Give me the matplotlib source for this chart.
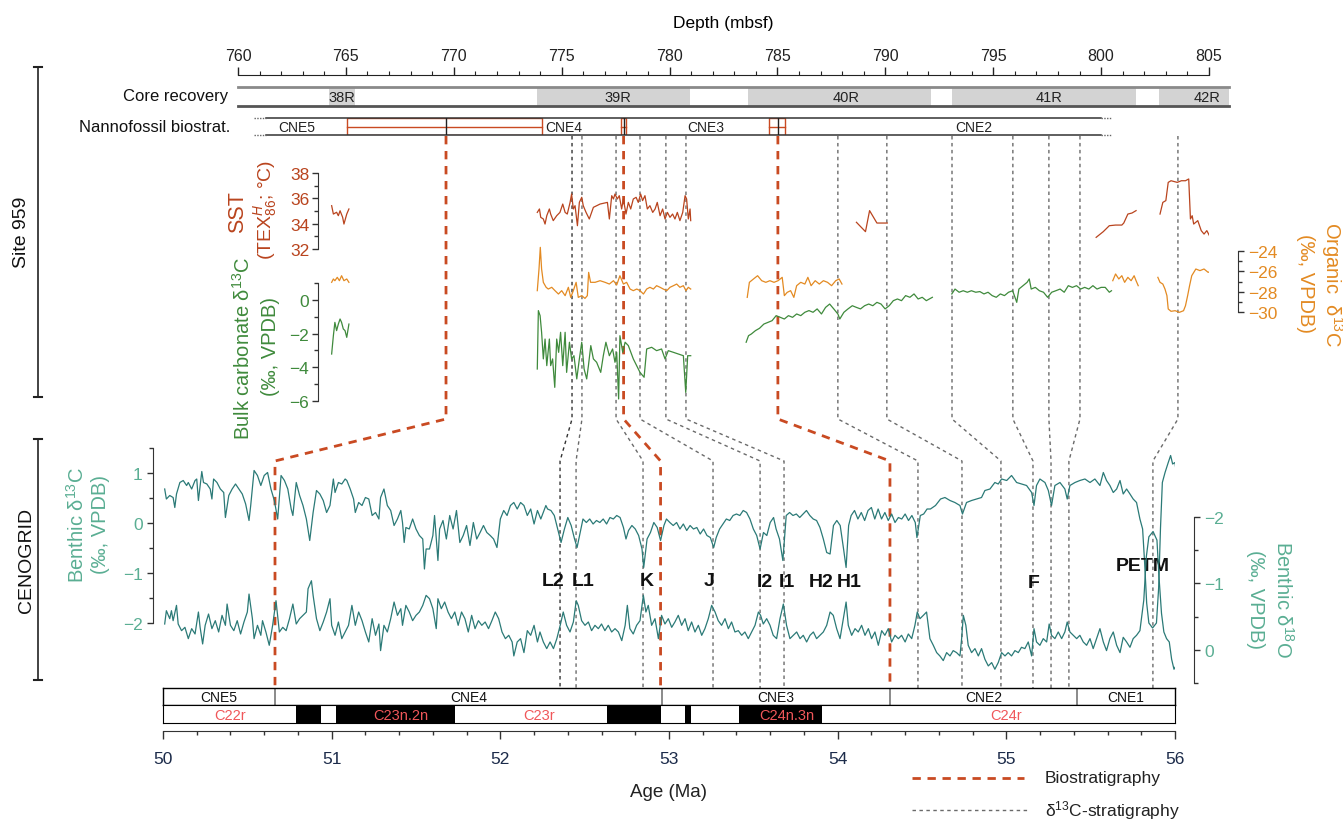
import numpy as np
import matplotlib
matplotlib.use('Agg')
import matplotlib.pyplot as plt
from matplotlib.patches import Rectangle
from matplotlib.ticker import MultipleLocator, FixedLocator

plt.rcParams['font.family'] = ['Liberation Sans', 'DejaVu Sans']
plt.rcParams['mathtext.fontset'] = 'custom'
plt.rcParams['mathtext.rm'] = 'Liberation Sans'
plt.rcParams['mathtext.it'] = 'Liberation Sans:italic'
plt.rcParams['mathtext.bf'] = 'Liberation Sans:bold'

# colours
c_sst = '#b9441e'
c_org = '#e38a22'
c_bulk = '#3f8a3c'
c_ben = '#2b7a77'
c_benlab = '#5aae93'
c_bio = '#c94a22'
c_iso = '#6a6a6a'
c_chron = '#f0575a'
c_age = '#1c2b4a'

# ---------------- Site 959 core / biostratigraphy (depth, mbsf)
core_names = ['38R', '39R', '40R', '41R', '42R']
core_top = [764.2, 773.85, 783.63, 793.1, 802.7]
core_bot = [765.4, 780.95, 792.1, 801.6, 805.93]
core_lab = [764.8, 777.6, 788.2, 797.6, 804.9]

nanno_names = ['CNE5', 'CNE4', 'CNE3', 'CNE2']
nanno_lab = [762.7, 775.1, 781.7, 794.1]
nanno_unc = [(765.05, 774.09), (777.75, 777.98), (784.6, 785.35)]

# tie points depth -> age
bio_depth = [769.64, 777.87, 785.02]
bio_age = [50.664, 52.95, 54.31]
iso_depth = [775.48, 775.94, 777.52, 778.63, 779.83, 780.76, 787.80, 790.07,
             793.09, 795.91, 797.58, 799.02, 803.56]
iso_age = [52.354, 52.449, 52.846, 53.261, 53.54, 53.682, 54.476, 54.737,
           54.968, 55.158, 55.265, 55.371, 55.869]

# ---------------- Site 959 SST (TEX86H, degC) vs depth
sst_1 = [(764.34, 35.42), (764.42, 34.76), (764.57, 34.9), (764.65, 34.63), (764.73, 35.02),
         (764.85, 34.5), (764.91, 33.97), (765.04, 34.76), (765.14, 35.16)]
sst_2 = [(773.87, 34.89), (773.97, 35.16), (774.03, 34.5), (774.15, 34.37), (774.23, 33.97),
         (774.31, 34.63), (774.43, 35.16), (774.49, 34.76), (774.61, 34.24), (774.77, 34.63),
         (774.92, 34.89), (775.05, 35.55), (775.16, 34.89), (775.26, 34.76), (775.39, 35.68),
         (775.46, 36.34), (775.54, 35.16), (775.62, 35.42), (775.73, 33.84), (775.82, 35.68),
         (775.93, 36.08), (776.0, 35.42), (776.13, 34.89), (776.28, 34.37), (776.47, 35.29),
         (776.78, 35.55), (777.12, 35.68), (777.21, 34.37), (777.32, 36.21), (777.4, 35.95),
         (777.47, 36.34), (777.58, 35.95), (777.67, 36.21), (777.78, 35.16), (777.86, 35.95),
         (777.98, 34.76), (778.09, 35.68), (778.2, 35.16), (778.32, 35.95), (778.45, 36.08),
         (778.55, 35.68), (778.66, 36.34), (778.75, 35.82), (778.86, 36.21), (778.97, 35.16),
         (779.09, 35.42), (779.22, 34.89), (779.33, 35.16), (779.43, 35.68), (779.56, 34.63),
         (779.68, 35.16), (779.79, 34.37), (779.9, 34.89), (780.02, 34.5), (780.14, 34.76),
         (780.25, 34.37), (780.36, 34.89), (780.48, 34.24), (780.61, 34.89), (780.72, 36.21),
         (780.79, 35.95), (780.87, 34.37), (780.95, 35.16), (780.98, 34.24)]
sst_3 = [(788.66, 34.11), (789.08, 33.37), (789.27, 35.03), (789.61, 34.05), (790.09, 34.05)]
sst_4 = [(799.77, 32.92), (800.1, 33.37), (800.38, 33.84), (800.67, 33.89), (800.96, 33.89),
         (801.05, 34.05), (801.24, 34.76), (801.43, 34.84), (801.62, 35.03)]
sst_5 = [(802.73, 34.76), (802.86, 35.68), (803.0, 35.82), (803.11, 37.26), (803.24, 37.39),
         (803.53, 37.26), (803.72, 37.39), (803.91, 37.39), (804.06, 37.53), (804.14, 34.37),
         (804.22, 34.63), (804.29, 33.97), (804.48, 34.24), (804.64, 33.45), (804.77, 33.18),
         (804.9, 33.45), (805.06, 32.92), (805.21, 33.58), (805.34, 33.05), (805.63, 32.84)]

# ---------------- Site 959 organic d13C (permil) vs depth
org_1 = [(764.34, -27.08), (764.42, -26.75), (764.49, -26.92), (764.6, -26.59), (764.7, -26.92),
         (764.8, -26.43), (764.91, -26.92), (765.04, -26.75), (765.14, -27.08)]
org_2 = [(773.87, -27.9), (773.95, -25.77), (774.01, -23.64), (774.07, -25.77), (774.15, -27.08),
         (774.28, -27.57), (774.38, -27.74), (774.54, -27.57), (774.69, -27.9), (774.85, -28.23),
         (775.0, -27.9), (775.16, -28.39), (775.31, -27.57), (775.42, -28.56), (775.54, -27.9),
         (775.67, -27.08), (775.77, -28.56), (775.93, -28.39), (776.08, -28.66), (776.19, -28.39),
         (776.25, -26.1), (776.34, -27.08), (776.55, -27.08), (776.78, -26.92), (777.01, -27.08),
         (777.21, -27.25), (777.4, -26.92), (777.55, -27.34), (777.7, -26.43), (777.86, -27.25),
         (778.01, -27.08), (778.17, -27.74), (778.32, -27.9), (778.48, -27.74), (778.63, -27.9),
         (778.79, -28.23), (778.94, -27.74), (779.09, -27.57), (779.25, -27.74), (779.4, -27.41),
         (779.56, -27.57), (779.71, -27.74), (779.87, -27.9), (780.02, -27.57), (780.18, -27.41),
         (780.33, -27.25), (780.48, -27.57), (780.64, -27.41), (780.76, -27.9), (780.87, -27.57),
         (780.98, -27.74)]
org_3 = [(783.6, -28.56), (783.7, -27.08), (783.89, -26.75), (784.08, -26.43), (784.27, -26.92),
         (784.46, -27.08), (784.65, -26.92), (784.84, -27.08), (785.03, -26.92), (785.22, -26.59),
         (785.32, -28.39), (785.45, -28.07), (785.61, -27.9), (785.76, -28.56), (785.89, -27.41),
         (786.08, -27.08), (786.27, -27.25), (786.41, -26.59), (786.56, -27.41), (786.75, -26.92),
         (786.94, -27.25), (787.13, -26.92), (787.32, -27.08), (787.51, -27.41), (787.7, -26.92),
         (787.86, -26.75), (787.99, -27.25)]
org_4 = [(800.54, -26.92), (800.67, -26.26), (800.82, -26.75), (800.96, -26.43), (801.09, -27.08),
         (801.24, -26.59), (801.39, -26.92), (801.53, -26.43), (801.62, -26.92), (801.72, -27.41)]
org_5 = [(802.63, -26.59), (802.73, -27.08), (802.86, -27.25), (802.96, -27.74), (803.05, -28.39),
         (803.11, -29.7), (803.24, -29.93), (803.43, -29.87), (803.63, -30.03), (803.82, -29.87),
         (803.91, -29.38), (804.01, -28.39), (804.1, -27.41), (804.2, -26.43), (804.39, -25.77),
         (804.58, -25.93), (804.77, -25.77), (804.96, -26.1), (805.15, -25.93), (805.34, -26.26),
         (805.48, -25.11), (805.59, -25.93), (805.67, -26.43)]

# ---------------- Site 959 bulk carbonate d13C (permil) vs depth
bulk_1 = [(764.34, -3.21), (764.42, -2.12), (764.49, -1.33), (764.57, -1.82), (764.65, -1.43),
          (764.73, -1.13), (764.8, -1.33), (764.88, -1.72), (764.96, -1.82), (765.04, -2.22),
          (765.14, -1.43)]
bulk_2 = [(773.87, -4.1), (773.92, -0.63), (774.0, -0.93), (774.07, -1.92), (774.15, -3.5),
          (774.23, -2.32), (774.31, -3.9), (774.43, -2.32), (774.49, -3.9), (774.58, -3.5),
          (774.68, -5.19), (774.77, -2.32), (774.86, -3.11), (774.95, -1.92), (775.05, -3.9),
          (775.16, -1.92), (775.23, -4.3), (775.36, -2.51), (775.46, -3.5), (775.57, -3.31),
          (775.7, -4.69), (775.82, -3.5), (775.93, -2.51), (776.04, -4.1), (776.16, -4.69),
          (776.24, -3.9), (776.35, -2.71), (776.47, -3.5), (776.62, -3.7), (776.81, -4.3),
          (776.93, -3.31), (777.05, -2.51), (777.21, -3.31), (777.36, -2.91), (777.47, -3.7),
          (777.55, -3.11), (777.64, -5.88), (777.7, -2.12), (777.83, -3.11), (777.94, -2.51),
          (778.09, -2.71), (778.32, -3.5), (778.63, -4.3), (778.82, -4.59), (778.94, -2.91),
          (779.17, -2.81), (779.4, -3.01), (779.63, -2.91), (779.79, -3.5), (779.94, -3.01),
          (780.18, -3.11), (780.41, -3.21), (780.64, -3.31), (780.75, -5.49), (780.84, -3.31),
          (780.98, -3.31)]
bulk_3 = [(783.55, -2.51), (783.66, -2.12), (783.79, -2.02), (783.98, -1.82), (784.17, -1.68),
          (784.37, -1.43), (784.56, -1.33), (784.75, -1.23), (784.94, -0.93), (785.13, -1.03),
          (785.32, -1.13), (785.51, -0.93), (785.7, -1.03), (785.89, -0.83), (786.08, -0.93),
          (786.27, -0.73), (786.46, -0.63), (786.65, -0.73), (786.84, -0.53), (787.04, -0.83),
          (787.23, -0.44), (787.42, -0.24), (787.61, -0.53), (787.8, -0.83), (787.89, -1.13),
          (788.08, -0.73), (788.27, -0.53), (788.47, -0.34), (788.66, -0.44), (788.85, -0.53),
          (789.04, -0.34), (789.23, -0.24), (789.42, -0.34), (789.61, -0.14), (789.8, -0.24),
          (789.99, -0.53), (790.18, -0.34), (790.37, -0.04), (790.56, 0.06), (790.75, -0.04),
          (790.94, 0.26), (791.14, 0.16), (791.33, 0.36), (791.52, 0.06), (791.71, 0.16),
          (791.9, -0.04), (792.18, 0.16)]
bulk_4 = [(793.08, 0.36), (793.23, 0.65), (793.42, 0.46), (793.61, 0.55), (793.8, 0.46),
          (793.99, 0.55), (794.19, 0.46), (794.38, 0.5), (794.57, 0.36), (794.76, 0.46),
          (794.95, 0.26), (795.14, 0.16), (795.33, 0.36), (795.52, 0.26), (795.71, 0.46),
          (795.9, 0.55), (796.09, -0.14), (796.19, 0.65), (796.38, 0.85), (796.57, 1.05),
          (796.67, 1.25), (796.76, 0.65), (796.95, 0.75), (797.14, 0.55), (797.33, 0.46),
          (797.52, 0.16), (797.71, 0.46), (797.9, 0.55), (798.1, 0.65), (798.29, 0.46),
          (798.48, 0.85), (798.67, 0.75), (798.86, 0.85), (799.05, 0.65), (799.24, 0.75),
          (799.43, 0.65), (799.62, 0.85), (799.81, 0.65), (800.0, 0.75), (800.19, 0.75),
          (800.38, 0.46), (800.48, 0.55)]

# ---------------- CENOGRID benthic d13C (permil) vs age (Ma)
b13 = [(50.01, 0.68), (50.02, 0.48), (50.04, 0.55), (50.06, 0.51), (50.07, 0.31), (50.08, 0.58),
       (50.10, 0.81), (50.12, 0.85), (50.14, 0.75), (50.15, 0.81), (50.17, 0.68), (50.19, 0.85),
       (50.20, 0.88), (50.21, 0.45), (50.23, 1.03), (50.24, 0.81), (50.26, 0.78), (50.28, 0.68),
       (50.29, 0.48), (50.30, 0.88), (50.32, 0.81), (50.34, 0.68), (50.36, 0.61), (50.37, 0.11),
       (50.39, 0.55), (50.41, 0.68), (50.43, 0.78), (50.45, 0.68), (50.47, 0.58), (50.49, 0.38),
       (50.51, 0.05), (50.52, 0.35), (50.54, 1.05), (50.56, 0.95), (50.58, 0.75), (50.60, 0.95),
       (50.62, 1.01), (50.64, 0.68), (50.66, 0.45), (50.68, 0.08), (50.70, 0.95), (50.72, 0.85),
       (50.74, 0.68), (50.76, 0.28), (50.77, 0.15), (50.79, 0.81), (50.81, 0.55), (50.83, 0.35),
       (50.85, 0.08), (50.87, -0.35), (50.89, 0.21), (50.91, 0.65), (50.93, 0.58), (50.95, 0.45),
       (50.97, 0.21), (50.99, 0.35), (51.01, 0.88), (51.02, 0.61), (51.04, 0.81), (51.06, 0.78),
       (51.08, 0.88), (51.09, 0.85), (51.11, 0.68), (51.13, 0.48), (51.14, 0.21), (51.16, 0.41),
       (51.18, 0.35), (51.20, 0.51), (51.22, 0.48), (51.24, 0.15), (51.26, 0.21), (51.28, 0.08),
       (51.29, 0.51), (51.31, 0.68), (51.33, 0.35), (51.35, 0.25), (51.37, -0.05), (51.39, 0.08),
       (51.41, 0.25), (51.42, 0.01), (51.43, -0.39), (51.44, -0.09), (51.46, -0.12), (51.48, 0.08),
       (51.50, -0.12), (51.52, -0.25), (51.54, -0.32), (51.55, -0.92), (51.56, -0.52), (51.58, -0.52),
       (51.60, -0.25), (51.61, 0.15), (51.63, -0.75), (51.64, -0.12), (51.66, 0.05), (51.68, -0.32),
       (51.70, 0.15), (51.72, -0.12), (51.74, 0.25), (51.76, -0.39), (51.78, -0.25), (51.80, -0.05),
       (51.82, -0.45), (51.84, 0.01), (51.86, -0.32), (51.88, -0.19), (51.90, -0.05), (51.92, -0.19),
       (51.94, -0.25), (51.96, -0.32), (51.98, -0.49), (52.00, 0.08), (52.02, 0.25), (52.04, 0.15),
       (52.06, 0.35), (52.08, 0.41), (52.10, 0.28), (52.12, 0.41), (52.14, 0.35), (52.16, 0.15),
       (52.18, 0.28), (52.20, -0.02), (52.22, 0.25),
       (52.24, 0.08), (52.27, 0.35), (52.28, 0.28), (52.30, 0.25), (52.32, 0.15), (52.34, -0.12),
       (52.36, -0.39), (52.38, -0.12), (52.40, 0.11), (52.42, -0.05), (52.44, -0.32), (52.455, -0.49),
       (52.47, -0.25), (52.49, 0.08), (52.51, 0.01), (52.53, 0.08), (52.55, -0.02), (52.57, 0.05),
       (52.59, 0.01), (52.61, 0.08), (52.63, -0.02), (52.65, 0.11), (52.67, 0.08), (52.69, 0.15),
       (52.71, 0.11), (52.73, -0.09), (52.745, -0.32), (52.76, -0.15), (52.78, -0.05), (52.80, -0.12),
       (52.82, -0.25), (52.84, -0.52), (52.85, -0.89), (52.87, -0.32), (52.89, -0.19), (52.91, 0.01),
       (52.93, -0.09), (52.95, -0.35), (52.97, -0.05), (52.985, 0.08), (53.005, 0.01), (53.025, -0.05),
       (53.045, 0.01), (53.065, -0.12), (53.085, -0.02), (53.105, -0.15), (53.125, -0.05), (53.145, -0.12),
       (53.165, -0.09), (53.185, -0.22), (53.205, -0.12), (53.225, -0.25), (53.245, -0.29), (53.265, -0.49),
       (53.28, -0.29), (53.30, -0.12), (53.32, -0.02), (53.34, 0.08), (53.36, 0.05), (53.38, 0.15),
       (53.40, 0.18), (53.42, 0.15), (53.44, 0.25), (53.46, 0.21), (53.48, 0.08), (53.50, -0.12),
       (53.52, -0.25), (53.54, -0.52), (53.56, -0.19), (53.58, -0.25), (53.60, 0.01), (53.62, 0.11),
       (53.635, -0.12), (53.655, -0.32), (53.675, -0.75), (53.695, 0.15), (53.715, 0.21), (53.735, 0.15),
       (53.755, 0.18), (53.775, 0.11), (53.795, 0.18), (53.815, 0.25), (53.835, 0.15), (53.855, 0.08),
       (53.875, 0.05), (53.895, -0.09), (53.915, -0.32), (53.935, -0.59), (53.955, -0.62), (53.975, -0.05),
       (53.995, 0.05), (54.015, -0.05), (54.035, -0.52), (54.05, -0.89), (54.065, -0.05), (54.08, 0.15),
       (54.10, 0.25), (54.12, 0.08), (54.14, 0.21), (54.16, 0.05), (54.18, 0.25), (54.20, 0.31),
       (54.22, 0.08), (54.24, 0.28), (54.26, 0.08), (54.28, 0.21), (54.30, 0.05), (54.32, 0.18),
       (54.34, 0.01), (54.36, 0.11), (54.38, 0.08), (54.40, 0.18), (54.42, 0.05), (54.44, 0.15),
       (54.46, 0.01), (54.47, -0.29), (54.49, 0.15), (54.51, 0.18), (54.53, 0.28),
       (54.55, 0.28), (54.58, 0.35), (54.61, 0.48), (54.636, 0.51), (54.666, 0.45), (54.695, 0.41),
       (54.725, 0.35), (54.74, 0.18), (54.764, 0.41), (54.794, 0.45), (54.824, 0.48), (54.853, 0.51),
       (54.873, 0.65), (54.903, 0.68), (54.932, 0.81), (54.952, 0.78), (54.972, 0.88), (55.002, 0.85),
       (55.031, 0.95), (55.061, 0.81), (55.09, 0.78), (55.12, 0.75), (55.15, 0.61), (55.164, 0.35),
       (55.179, 0.75), (55.199, 0.88), (55.229, 0.81), (55.249, 0.65), (55.268, 0.35), (55.288, 0.75),
       (55.318, 0.81), (55.347, 0.68), (55.361, 0.48), (55.377, 0.75), (55.407, 0.81), (55.436, 0.85),
       (55.466, 0.88), (55.496, 0.81), (55.525, 0.88), (55.555, 0.75), (55.575, 1.01), (55.594, 0.85),
       (55.614, 0.75), (55.634, 0.61), (55.654, 0.68), (55.674, 0.85), (55.693, 0.58), (55.713, 0.68),
       (55.733, 0.58), (55.752, 0.48), (55.772, 0.41), (55.792, 0.08), (55.808, -0.12), (55.82, -0.8),
       (55.832, -1.6), (55.845, -2.0), (55.867, -2.1), (55.89, -2.0), (55.903, -1.3), (55.914, -0.1),
       (55.925, 0.81), (55.941, 1.01), (55.96, 1.21), (55.974, 1.35), (55.986, 1.18), (56.0, 1.21),
       (56.006, 1.05)]

# ---------------- CENOGRID benthic d18O (permil) vs age (Ma)
b18 = [(50.01, -0.39), (50.02, -0.59), (50.04, -0.47), (50.05, -0.59), (50.06, -0.44), (50.08, -0.67),
       (50.09, -0.39), (50.11, -0.29), (50.13, -0.34), (50.15, -0.17), (50.17, -0.32), (50.19, -0.24),
       (50.21, -0.57), (50.22, -0.34), (50.235, -0.09), (50.25, -0.37), (50.27, -0.54), (50.29, -0.32),
       (50.31, -0.44), (50.33, -0.27), (50.35, -0.52), (50.37, -0.37), (50.38, -0.69), (50.40, -0.37),
       (50.42, -0.29), (50.44, -0.44), (50.46, -0.24), (50.48, -0.42), (50.50, -0.57), (50.51, -0.84),
       (50.53, -0.47), (50.54, -0.17), (50.56, -0.37), (50.58, -0.22), (50.59, -0.44), (50.61, -0.27),
       (50.63, -0.07), (50.65, -0.37), (50.67, -0.74), (50.69, -0.27), (50.71, -0.34), (50.73, -0.29),
       (50.75, -0.47), (50.77, -0.69), (50.79, -0.39), (50.81, -0.47), (50.83, -0.52), (50.85, -0.57),
       (50.86, -0.92), (50.88, -1.04), (50.89, -0.82), (50.91, -0.47), (50.93, -0.29), (50.95, -0.42),
       (50.97, -0.57), (50.99, -0.77), (51.00, -0.37), (51.02, -0.22), (51.04, -0.42), (51.06, -0.17),
       (51.08, -0.27), (51.10, -0.37), (51.12, -0.67), (51.14, -0.37), (51.16, -0.57), (51.18, -0.44),
       (51.20, -0.27), (51.22, -0.12), (51.24, -0.47), (51.26, -0.22), (51.28, -0.39), (51.29, 0.01),
       (51.31, -0.37), (51.33, -0.27), (51.35, -0.47), (51.37, -0.72), (51.39, -0.52), (51.41, -0.62),
       (51.42, -0.37), (51.44, -0.67), (51.46, -0.57), (51.48, -0.44), (51.50, -0.52), (51.52, -0.57),
       (51.54, -0.67), (51.56, -0.82), (51.58, -0.77), (51.60, -0.62), (51.62, -0.32), (51.63, -0.77),
       (51.65, -0.62), (51.67, -0.72), (51.69, -0.57), (51.71, -0.47), (51.73, -0.57), (51.75, -0.37),
       (51.77, -0.57), (51.79, -0.47), (51.81, -0.27), (51.83, -0.52), (51.85, -0.32), (51.87, -0.44),
       (51.89, -0.37), (51.91, -0.42), (51.93, -0.32), (51.95, -0.44), (51.97, -0.57), (51.99, -0.47),
       (52.01, -0.27), (52.03, -0.17), (52.05, -0.22), (52.07, -0.12), (52.08, 0.09), (52.10, -0.12),
       (52.12, -0.17), (52.14, 0.04), (52.16, -0.29), (52.18, -0.22), (52.20, -0.37), (52.22, -0.12),
       (52.235, -0.27), (52.255, -0.12), (52.275, -0.02), (52.295, -0.12), (52.315, -0.02), (52.335, -0.17),
       (52.355, -0.37), (52.373, -0.57), (52.393, -0.37), (52.413, -0.27), (52.433, -0.42), (52.45, -0.74),
       (52.462, -0.67), (52.482, -0.44), (52.502, -0.37), (52.522, -0.42), (52.541, -0.29), (52.561, -0.37),
       (52.581, -0.32), (52.60, -0.39), (52.62, -0.29), (52.64, -0.37), (52.66, -0.27), (52.68, -0.32),
       (52.70, -0.27), (52.72, -0.14), (52.74, -0.37), (52.753, -0.67), (52.768, -0.32), (52.788, -0.24),
       (52.808, -0.37), (52.828, -0.44), (52.848, -0.82), (52.863, -0.57), (52.877, -0.67), (52.897, -0.37),
       (52.917, -0.47), (52.937, -0.17), (52.956, -0.52), (52.976, -0.39), (52.996, -0.47), (53.016, -0.34),
       (53.035, -0.42), (53.055, -0.52), (53.075, -0.37), (53.095, -0.47), (53.114, -0.29), (53.134, -0.42),
       (53.154, -0.27), (53.174, -0.37), (53.194, -0.22), (53.213, -0.32), (53.233, -0.47), (53.253, -0.67),
       (53.273, -0.57), (53.292, -0.44), (53.312, -0.37), (53.332, -0.47), (53.352, -0.32), (53.371, -0.42),
       (53.391, -0.27), (53.411, -0.29), (53.431, -0.22), (53.45, -0.27), (53.47, -0.17), (53.49, -0.27),
       (53.51, -0.37), (53.53, -0.57), (53.543, -0.52), (53.559, -0.39), (53.579, -0.47), (53.599, -0.37),
       (53.618, -0.22), (53.638, -0.17), (53.658, -0.47), (53.678, -0.69), (53.697, -0.37), (53.717, -0.17),
       (53.737, -0.22), (53.757, -0.27), (53.777, -0.17), (53.796, -0.22), (53.816, -0.12), (53.836, -0.22),
       (53.856, -0.27), (53.875, -0.17), (53.895, -0.22), (53.915, -0.27), (53.935, -0.37), (53.955, -0.57),
       (53.974, -0.52), (53.994, -0.32), (54.014, -0.17), (54.034, -0.47), (54.05, -0.72), (54.063, -0.37),
       (54.083, -0.22), (54.103, -0.32), (54.122, -0.27), (54.142, -0.37), (54.162, -0.22), (54.182, -0.32),
       (54.201, -0.17), (54.221, -0.27), (54.241, -0.07), (54.261, -0.29), (54.28, -0.22), (54.30, -0.32),
       (54.32, -0.12), (54.34, -0.22), (54.36, -0.17), (54.379, -0.22), (54.40, -0.12), (54.419, -0.24),
       (54.439, -0.17), (54.458, -0.37), (54.472, -0.57), (54.488, -0.47), (54.508, -0.52), (54.527, -0.57),
       (54.547, -0.17), (54.567, -0.07), (54.587, 0.04), (54.606, 0.09), (54.626, 0.16), (54.646, 0.04),
       (54.666, 0.09), (54.685, 0.01), (54.705, 0.04), (54.725, 0.09), (54.735, -0.17), (54.745, -0.52),
       (54.76, -0.37), (54.774, -0.07), (54.794, 0.04), (54.814, -0.02), (54.834, 0.09), (54.853, -0.02),
       (54.873, 0.14), (54.893, 0.24), (54.913, 0.19), (54.932, 0.29), (54.952, 0.19), (54.972, 0.04),
       (54.992, 0.09), (55.011, 0.04), (55.031, 0.09), (55.051, 0.01), (55.071, 0.04), (55.09, -0.04),
       (55.11, -0.02), (55.13, -0.12), (55.15, 0.09), (55.164, -0.32), (55.179, -0.12), (55.199, -0.07),
       (55.219, -0.17), (55.239, -0.12), (55.254, -0.39), (55.268, -0.22), (55.288, -0.17), (55.308, -0.27),
       (55.328, -0.17), (55.347, -0.27), (55.361, -0.42), (55.377, -0.27), (55.397, -0.22), (55.417, -0.17),
       (55.436, -0.22), (55.456, -0.12), (55.476, -0.07), (55.496, -0.17), (55.515, -0.02), (55.535, -0.17),
       (55.555, -0.32), (55.575, -0.12), (55.594, 0.01), (55.614, -0.17), (55.634, -0.27), (55.654, -0.07),
       (55.674, 0.04), (55.693, -0.19), (55.713, -0.12), (55.733, -0.04), (55.752, -0.17), (55.772, -0.22),
       (55.792, -0.29), (55.815, -0.75), (55.83, -1.4), (55.845, -1.7), (55.87, -1.78), (55.893, -1.65),
       (55.905, -1.1), (55.92, -0.55), (55.934, -0.27), (55.95, -0.17), (55.966, -0.12), (55.98, 0.14),
       (55.994, 0.29), (56.005, 0.24)]

# events
ev_names = ['L2', 'L1', 'K', 'J', 'I2', 'I1', 'H2', 'H1', 'F', 'PETM']
ev_age = [52.31, 52.49, 52.87, 53.24, 53.57, 53.70, 53.90, 54.07, 55.165, 55.81]
ev_val = [-1.16, -1.16, -1.16, -1.16, -1.18, -1.18, -1.18, -1.18, -1.2, -0.86]

# nannofossil zones and magnetochrons vs age
cne_names = ['CNE5', 'CNE4', 'CNE3', 'CNE2', 'CNE1']
cne_bounds = [50.0, 50.664, 52.958, 54.31, 55.42, 56.0]
chron_normal = [(50.786, 50.937), (51.025, 51.731), (52.63, 52.95), (53.094, 53.13), (53.414, 53.906)]
chron_names = ['C22r', 'C23n.2n', 'C23r', 'C24n.3n', 'C24r']
chron_lab = [50.40, 51.41, 52.23, 53.70, 55.0]

# ================= layout (pixels) =================
W, H = 1343, 820
PT = 0.72  # points per pixel at 100 dpi
fig = plt.figure(figsize=(W / 100, H / 100), dpi=100)


def box(x0, y0, x1, y1):
    return [x0 / W, 1 - y1 / H, (x1 - x0) / W, (y1 - y0) / H]


def xy(seg):
    a = np.array(seg, dtype=float)
    return a[:, 0], a[:, 1]


# overlay axes in pixel units for connectors/brackets/legend
ov = fig.add_axes([0, 0, 1, 1], label='overlay')
ov.set_xlim(0, W)
ov.set_ylim(H, 0)
ov.axis('off')

# depth axis
px_per_m = (1209 - 238) / 45.0
axd = fig.add_axes(box(238, 76, 1209, 420), label='depth')
axd.set_xlim(760, 805)
axd.patch.set_alpha(0)
for s in ['left', 'right', 'bottom']:
    axd.spines[s].set_visible(False)
axd.spines['top'].set_color('#222222')
axd.xaxis.set_ticks_position('top')
axd.xaxis.set_label_position('top')
axd.set_yticks([])
axd.xaxis.set_major_locator(MultipleLocator(5))
axd.xaxis.set_minor_locator(MultipleLocator(1))
axd.tick_params(axis='x', which='major', length=8 * PT, width=1, pad=3, labelsize=11.5, colors='#222222')
axd.tick_params(axis='x', which='minor', length=4 * PT, width=0.8, colors='#222222')
axd.set_xlabel('Depth (mbsf)', fontsize=12.5, labelpad=15)

# core recovery row
xmax_row = 760 + (1229 - 238) / px_per_m
axc = fig.add_axes(box(238, 88, 1229, 107), label='core')
axc.set_xlim(760, xmax_row)
axc.set_ylim(0, 1)
axc.axis('off')
for t, b in zip(core_top, core_bot):
    axc.add_patch(Rectangle((t, 0), b - t, 1, fc='#d3d3d3', ec='none'))
axc.plot([760, xmax_row], [1, 1], color='#8a8a8a', lw=2, clip_on=False)
axc.plot([760, xmax_row], [0, 0], color='#555555', lw=2, clip_on=False)
for name, d in zip(core_names, core_lab):
    axc.text(d, 0.45, name, ha='center', va='center', fontsize=10.5, color='#222222')

# nannofossil biostratigraphy row
axn = fig.add_axes(box(238, 119, 1229, 136), label='nanno')
axn.set_xlim(760, xmax_row)
axn.set_ylim(0, 1)
axn.axis('off')
for yy in [0, 1]:
    axn.plot([761.3, 799.99], [yy, yy], color='#333333', lw=1.1, clip_on=False)
    axn.plot([760.74, 761.3], [yy, yy], color='#666666', lw=1, ls=(0, (1, 1)), clip_on=False)
    axn.plot([799.99, 800.5], [yy, yy], color='#666666', lw=1, ls=(0, (1, 1)), clip_on=False)
for a, b in nanno_unc:
    axn.add_patch(Rectangle((a, 0), b - a, 1, fill=False, ec=c_bio, lw=1))
    axn.plot([a, b], [0.5, 0.5], color=c_bio, lw=1)
for d in bio_depth:
    axn.plot([d, d], [0, 1], color='#222222', lw=1)
for name, d in zip(nanno_names, nanno_lab):
    axn.text(d, 0.5, name, ha='center', va='center', fontsize=10, color='#222222')


# upper data panels (Site 959)
def panel(lbl, ylim):
    ax = fig.add_axes(box(238, 150, 1209, 420), label=lbl)
    ax.set_xlim(760, 805)
    ax.set_ylim(*ylim)
    ax.patch.set_alpha(0)
    for s in ax.spines.values():
        s.set_visible(False)
    ax.set_xticks([])
    return ax


spine_depth = 760 + (318 - 238) / px_per_m

ax_sst = panel('sst', (18.58, 39.895))
ax_bulk = panel('bulk', (-7.07, 8.97))
ax_org = panel('org', (-40.52, -13.97))

for ax, lo, hi, major, minor, col in [
        (ax_sst, 32, 38, [32, 34, 36, 38], [33, 35, 37], c_sst),
        (ax_bulk, -6, 1, [-6, -4, -2, 0], [-5, -3, -1, 1], c_bulk)]:
    sp = ax.spines['left']
    sp.set_visible(True)
    sp.set_position(('data', spine_depth))
    sp.set_bounds(lo, hi)
    sp.set_color('#333333')
    ax.yaxis.set_major_locator(FixedLocator(major))
    ax.yaxis.set_minor_locator(FixedLocator(minor))
    ax.tick_params(axis='y', which='major', length=6 * PT, width=1, colors='#333333',
                   labelcolor=col, labelsize=12.5, pad=2)
    ax.tick_params(axis='y', which='minor', length=4 * PT, width=1, colors='#333333')

sp = ax_org.spines['right']
sp.set_visible(True)
sp.set_position(('outward', 29 * PT))
sp.set_bounds(-30, -24)
sp.set_color('#333333')
ax_org.yaxis.tick_right()
ax_org.yaxis.set_major_locator(FixedLocator([-30, -28, -26, -24]))
ax_org.yaxis.set_minor_locator(FixedLocator([-29, -27, -25]))
ax_org.tick_params(axis='y', which='major', length=6 * PT, width=1, colors='#333333',
                   labelcolor=c_org, labelsize=12.5, pad=3)
ax_org.tick_params(axis='y', which='minor', length=4 * PT, width=1, colors='#333333')

for seg in [sst_1, sst_2, sst_3, sst_4, sst_5]:
    ax_sst.plot(*xy(seg), color=c_sst, lw=0.9)
for seg in [org_1, org_2, org_3, org_4, org_5]:
    ax_org.plot(*xy(seg), color=c_org, lw=0.9)
for seg in [bulk_1, bulk_2, bulk_3, bulk_4]:
    ax_bulk.plot(*xy(seg), color=c_bulk, lw=0.9)

# benthic (CENOGRID) panel
axb = fig.add_axes(box(163, 440, 1175, 732), label='benthic')
axb.set_xlim(50, 56)
axb.set_ylim(-4.16, 1.68)
axb.patch.set_alpha(0)
axb.spines['top'].set_visible(False)
axb.spines['right'].set_visible(False)
axb.spines['left'].set_position(('outward', 10 * PT))
axb.spines['left'].set_bounds(-2, 1.5)
for s in ['left', 'bottom']:
    axb.spines[s].set_color('#333333')
axb.xaxis.set_major_locator(MultipleLocator(1))
axb.xaxis.set_minor_locator(MultipleLocator(0.2))
axb.tick_params(axis='x', which='major', length=8 * PT, width=1, colors='#333333',
                labelcolor=c_age, labelsize=12.5, pad=9)
axb.tick_params(axis='x', which='minor', length=4 * PT, width=1, colors='#333333')
axb.set_xlabel('Age (Ma)', fontsize=13.5, labelpad=12, color='#222222')
axb.yaxis.set_major_locator(FixedLocator([-2, -1, 0, 1]))
axb.yaxis.set_minor_locator(FixedLocator([-1.5, -0.5, 0.5, 1.5]))
axb.tick_params(axis='y', which='major', length=6 * PT, width=1, colors='#333333',
                labelcolor=c_benlab, labelsize=12.5, pad=3)
axb.tick_params(axis='y', which='minor', length=4 * PT, width=1, colors='#333333')
axb.plot(*xy(b13), color=c_ben, lw=0.9)

axb2 = axb.twinx()
axb2.set_ylim(1.218, -3.17)
for s in ['left', 'top', 'bottom']:
    axb2.spines[s].set_visible(False)
axb2.spines['right'].set_position(('outward', 19 * PT))
axb2.spines['right'].set_bounds(-2, 0.5)
axb2.spines['right'].set_color('#333333')
axb2.yaxis.set_major_locator(FixedLocator([-2, -1, 0]))
axb2.yaxis.set_minor_locator(FixedLocator([-1.5, -0.5, 0.5]))
axb2.tick_params(axis='y', which='major', length=6 * PT, width=1, colors='#333333',
                 labelcolor=c_benlab, labelsize=12.5, pad=3)
axb2.tick_params(axis='y', which='minor', length=4 * PT, width=1, colors='#333333')
axb2.plot(*xy(b18), color=c_ben, lw=0.9)

for name, a, v in zip(ev_names, ev_age, ev_val):
    axb.text(a, v, name, ha='center', va='center', fontsize=14, fontweight='bold', color='#111111')

# nannofossil zones bar (age)
axz = fig.add_axes(box(163, 689, 1175, 706), label='cne')
axz.set_xlim(50, 56)
axz.set_ylim(0, 1)
axz.set_xticks([])
axz.set_yticks([])
for s in axz.spines.values():
    s.set_linewidth(1)
for i, name in enumerate(cne_names):
    a, b = cne_bounds[i], cne_bounds[i + 1]
    if i > 0:
        axz.plot([a, a], [0, 1], color='#777777', lw=1.2)
    axz.text((a + b) / 2, 0.45, name, ha='center', va='center', fontsize=10, color='#111111')

# magnetochrons bar (age)
axm = fig.add_axes(box(163, 706, 1175, 724), label='chron')
axm.set_xlim(50, 56)
axm.set_ylim(0, 1)
axm.set_xticks([])
axm.set_yticks([])
for a, b in chron_normal:
    axm.add_patch(Rectangle((a, 0), b - a, 1, fc='black', ec='none'))
for name, a in zip(chron_names, chron_lab):
    axm.text(a, 0.45, name, ha='center', va='center', fontsize=10.5, color=c_chron)

# ---------------- connectors depth -> age (drawn in overlay pixel space)
fig.canvas.draw()


def px_depth(d):
    return axd.transData.transform((d, 0))[0]


def px_age(a):
    return axb.transData.transform((a, 0))[0]


y_top, y_k1, y_k2, y_bot = 137, 420, 462, 689
for i, (d, a) in enumerate(zip(iso_depth, iso_age)):
    xd, xa = px_depth(d), px_age(a)
    col = '#333333' if i == 0 else c_iso
    ov.plot([xd, xd, xa, xa], [y_top, y_k1, y_k2, y_bot], color=col, lw=1,
            ls=(0, (2.5, 2.5)))
for d, a in zip(bio_depth, bio_age):
    xd, xa = px_depth(d), px_age(a)
    ov.plot([xd, xd, xa, xa], [y_top, y_k1, y_k2, y_bot], color=c_bio, lw=2,
            ls=(0, (3, 2.4)))

# brackets on the left
for y0, y1 in [(68, 398), (440, 681)]:
    ov.plot([38, 38], [y0, y1], color='#222222', lw=1.2)
    ov.plot([34, 42], [y0, y0], color='#222222', lw=1.5)
    ov.plot([34, 42], [y1, y1], color='#222222', lw=1.5)

# legend
ov.plot([912, 1024], [779, 779], color=c_bio, lw=2, ls=(0, (3, 2.4)))
ov.plot([912, 1028], [811, 811], color=c_iso, lw=1, ls=(0, (2.5, 2.5)))
ov.text(1045, 779, 'Biostratigraphy', fontsize=12.5, va='center', ha='left', color='#222222')
ov.text(1045, 811, r'δ$^{13}$C-stratigraphy', fontsize=12.5, va='center', ha='left', color='#222222')


# ---------------- text labels
def ftext(x, y, s, **kw):
    fig.text(x / W, 1 - y / H, s, ha='center', va='center', **kw)


ftext(22, 232, 'Site 959', rotation=90, fontsize=14, color='#111111')
ftext(27, 560, 'CENOGRID', rotation=90, fontsize=14, color='#111111')
fig.text(228 / W, 1 - 97 / H, 'Core recovery', ha='right', va='center', fontsize=12, color='#111111')
fig.text(230 / W, 1 - 127 / H, 'Nannofossil biostrat.', ha='right', va='center', fontsize=12,
         color='#111111')

ftext(238, 212, 'SST', rotation=90, fontsize=15.5, color=c_sst)
ftext(266, 210, r'(TEX$_{86}^{H}$; °C)', rotation=90, fontsize=14, color=c_sst)
ftext(243, 348, r'Bulk carbonate δ$^{13}$C', rotation=90, fontsize=14.5, color=c_bulk)
ftext(270, 347, '(‰, VPDB)', rotation=90, fontsize=14.5, color=c_bulk)
ftext(77, 525, r'Benthic δ$^{13}$C', rotation=90, fontsize=14.5, color=c_benlab)
ftext(101, 525, '(‰, VPDB)', rotation=90, fontsize=14.5, color=c_benlab)
ftext(1283, 600, r'Benthic δ$^{18}$O', rotation=270, fontsize=14.5, color=c_benlab)
ftext(1256, 600, '(‰, VPDB)', rotation=270, fontsize=14.5, color=c_benlab)
ftext(1332, 284, r'Organic  δ$^{13}$C', rotation=270, fontsize=14.5, color=c_org)
ftext(1306, 284, '(‰, VPDB)', rotation=270, fontsize=14.5, color=c_org)

fig.savefig('out.png', dpi=100)
